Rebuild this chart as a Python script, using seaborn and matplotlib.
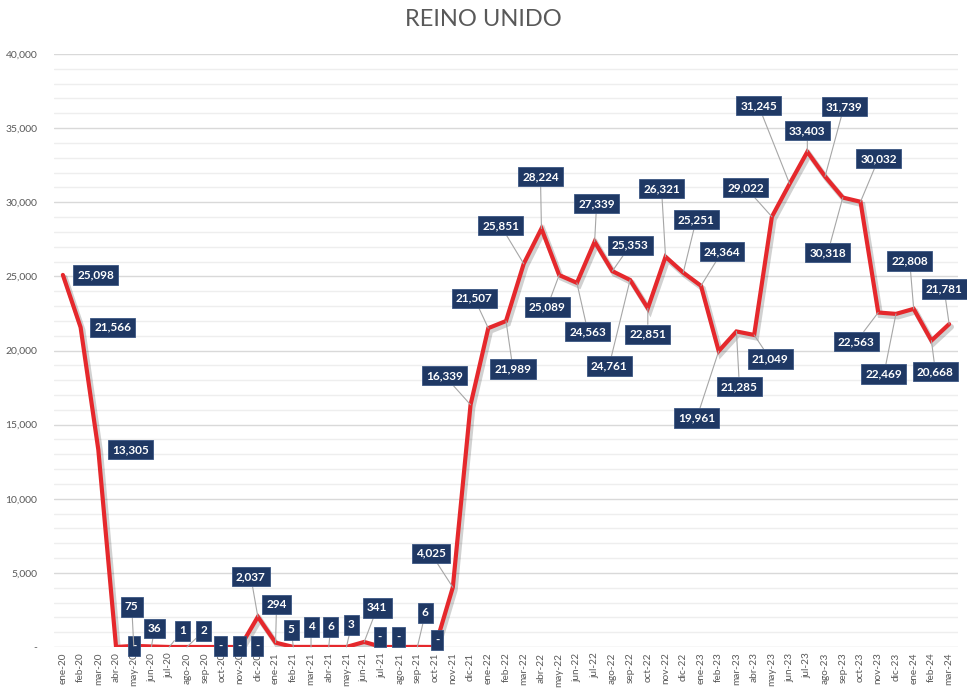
import matplotlib

matplotlib.use("Agg")
import matplotlib.patheffects as pe
import matplotlib.pyplot as plt
import numpy as np
import pandas as pd
import seaborn as sns
from matplotlib.ticker import FuncFormatter, MultipleLocator

# -- Data ----------------------------------------------------------------------

months = [
    "ene-20", "feb-20", "mar-20", "abr-20", "may-20", "jun-20", "jul-20", "ago-20",
    "sep-20", "oct-20", "nov-20", "dic-20", "ene-21", "feb-21", "mar-21", "abr-21",
    "may-21", "jun-21", "jul-21", "ago-21", "sep-21", "oct-21", "nov-21", "dic-21",
    "ene-22", "feb-22", "mar-22", "abr-22", "may-22", "jun-22", "jul-22", "ago-22",
    "sep-22", "oct-22", "nov-22", "dic-22", "ene-23", "feb-23", "mar-23", "abr-23",
    "may-23", "jun-23", "jul-23", "ago-23", "sep-23", "oct-23", "nov-23", "dic-23",
    "ene-24", "feb-24", "mar-24",
]
values = [
    25098, 21566, 13305, 0, 75, 36, 1, 2,
    0, 0, 0, 2037, 294, 5, 4, 6,
    3, 341, 0, 0, 6, 0, 4025, 16339,
    21507, 21989, 25851, 28224, 25089, 24563, 27339, 25353,
    24761, 22851, 26321, 25251, 24364, 19961, 21285, 21049,
    29022, 31245, 33403, 31739, 30318, 30032, 22563, 22469,
    22808, 20668, 21781,
]

# label placement (pixel offsets, image coords: +dy = down)
label_dx = [
    33, 32, 32, 18, -2, 3, 13, 17,
    16, 17, 17, -7, 1, -2, 0, 2,
    5, 13, -2, -1, 8, 2, -22, -26,
    -14, 7, -23, -1, -12, 11, 2, 18,
    -21, 0, -4, 13, 21, -22, 3, 16,
    -26, -31, 0, 19, -15, 18, -22, -12,
    -4, 4, -5,
]
label_dy = [
    0, 0, 0, -1, -39, -18, -16, -16,
    -1, -1, -1, -40, -38, -17, -20, -20,
    -22, -34, -10, -10, -34, -7, -34, -29,
    -30, 48, -38, -52, 32, 49, -38, -26,
    86, 26, -68, -53, -34, 67, 55, 24,
    -29, -78, -21, -70, 55, -43, 29, 60,
    -48, 31, -35,
]

LINE_RED = "#E5282C"
NAVY = "#1F3864"
GREY_TXT = "#595959"


def fmt(v):
    return "-" if v == 0 else f"{v:,.0f}"


df = pd.DataFrame({"pos": np.arange(len(months)), "month": months, "value": values})

sns.set_theme(style="white")
plt.rcParams["font.family"] = ["Lato", "DejaVu Sans"]

fig = plt.figure(figsize=(9.67, 6.89), dpi=100)
ax = fig.add_axes([54 / 967, 42 / 689, 904 / 967, 593 / 689])

sns.lineplot(data=df, x="pos", y="value", color=LINE_RED, linewidth=3, ax=ax, zorder=3)
ax.lines[0].set_path_effects([
    pe.SimpleLineShadow(offset=(1.5, -2), shadow_color="black", alpha=0.18, linewidth=4),
    pe.Normal(),
])
ax.lines[0].set_solid_joinstyle("miter")

ax.set_xlim(-0.5, len(months) - 0.5)
ax.set_ylim(0, 40000)
ax.set_xticks(df["pos"])
ax.set_xticklabels(months, rotation=90, fontsize=7.2, color=GREY_TXT)
ax.yaxis.set_major_locator(MultipleLocator(5000))
ax.yaxis.set_minor_locator(MultipleLocator(1000))
ax.yaxis.set_major_formatter(FuncFormatter(lambda v, _: fmt(v)))
ax.tick_params(axis="y", labelsize=7.5, labelcolor=GREY_TXT, length=0, pad=12)
ax.tick_params(axis="x", length=0, pad=4)
ax.grid(axis="y", which="major", color="#d9d9d9", linewidth=1)
ax.grid(axis="y", which="minor", color="#eeeeee", linewidth=1)
ax.set_axisbelow(True)
for s in ax.spines.values():
    s.set_visible(False)
ax.set_xlabel("")
ax.set_ylabel("")

for i, v in enumerate(values):
    dx, dy = label_dx[i], label_dy[i]
    arrow = None
    if abs(dy) > 12:
        arrow = dict(arrowstyle="-", color="#a6a6a6", lw=0.8, shrinkA=0, shrinkB=0)
    ax.annotate(
        fmt(v),
        xy=(i, v),
        xytext=(dx, -dy),
        textcoords="offset pixels",
        ha="center",
        va="center",
        fontsize=8.5,
        fontweight="bold",
        color="white",
        bbox=dict(boxstyle="square,pad=0.35", fc=NAVY, ec="#3b5683", lw=0.6),
        arrowprops=arrow,
        zorder=5,
    )

fig.text(0.5, 1 - 20 / 689, "REINO UNIDO", ha="center", va="center", fontsize=17, color=GREY_TXT)

fig.savefig("out.png", dpi=100, facecolor="white")
